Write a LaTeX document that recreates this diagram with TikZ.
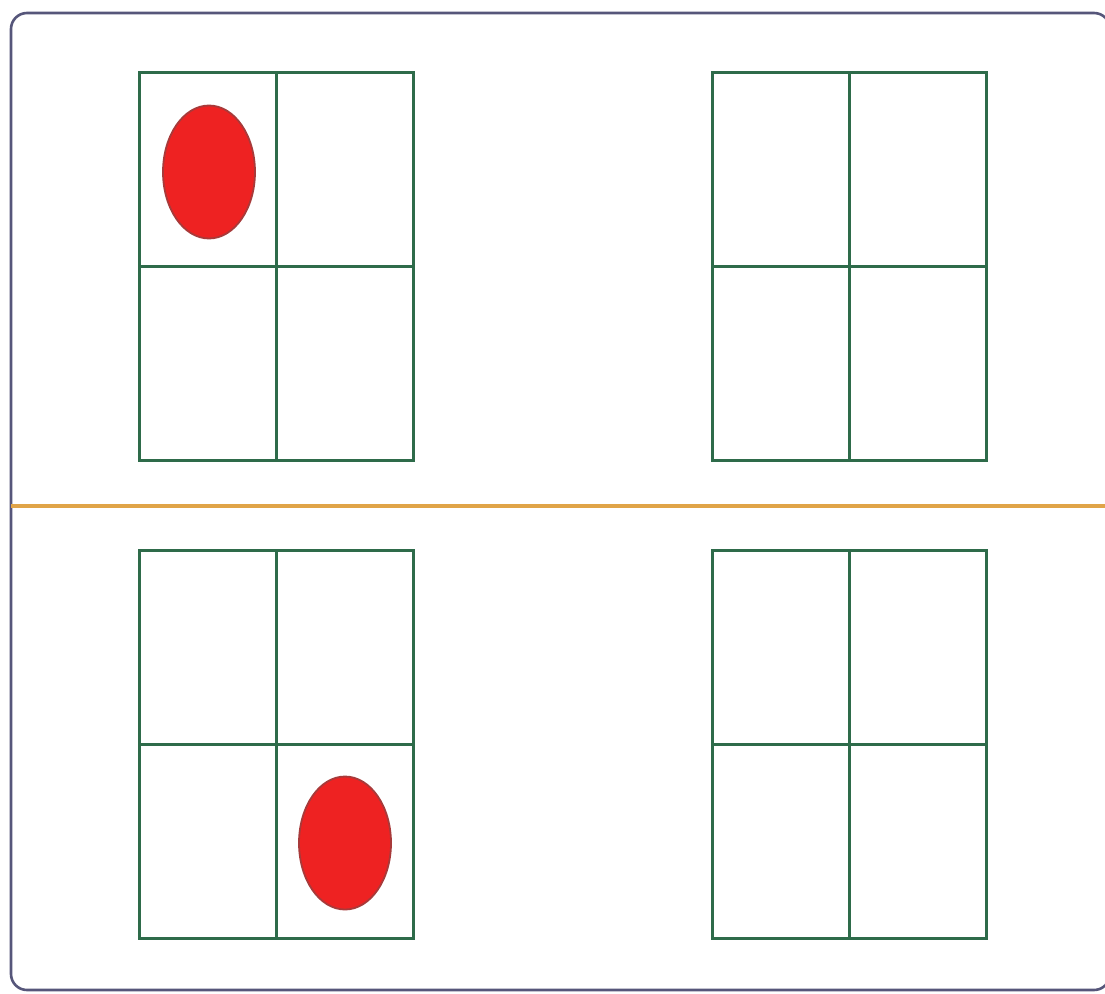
\documentclass[tikz,border=0pt]{standalone}
\definecolor{gridgreen}{HTML}{2E6B4A}
\definecolor{framecol}{HTML}{56567A}
\definecolor{sepcol}{HTML}{E0A448}
\definecolor{dotfill}{HTML}{EE2222}
\definecolor{dotedge}{HTML}{A83A3A}
\tikzset{
  gridline/.style={draw=gridgreen, line width=3pt},
  dotmark/.style={ellipse, fill=dotfill, draw=dotedge, line width=1.8pt, minimum width=92pt, minimum height=133pt, inner sep=0pt},
}
\usetikzlibrary{shapes.geometric}
\begin{document}
\begin{tikzpicture}[x=1pt,y=-1pt]
\useasboundingbox (0,0) rectangle (1105,993);
\fill[white] (0,0) rectangle (1105,993);
% outer frame
\draw[framecol, line width=2.6pt, rounded corners=16pt] (11,13) rectangle (1110,990);
% separator
\draw[sepcol, line width=3.2pt] (11,506) -- (1105,506);
% grids
\foreach \x/\y in {139/72, 712/72, 139/550, 712/550}{
  \draw[gridline] (\x,\y) rectangle ++(274,388);
  \draw[gridline] (\x+137,\y) -- ++(0,388);
  \draw[gridline] (\x,\y+194) -- ++(274,0);
}
% dots
\node[dotmark] (dotA) at (209,172) {};
\node[dotmark] (dotB) at (345,843) {};
\end{tikzpicture}
\end{document}
